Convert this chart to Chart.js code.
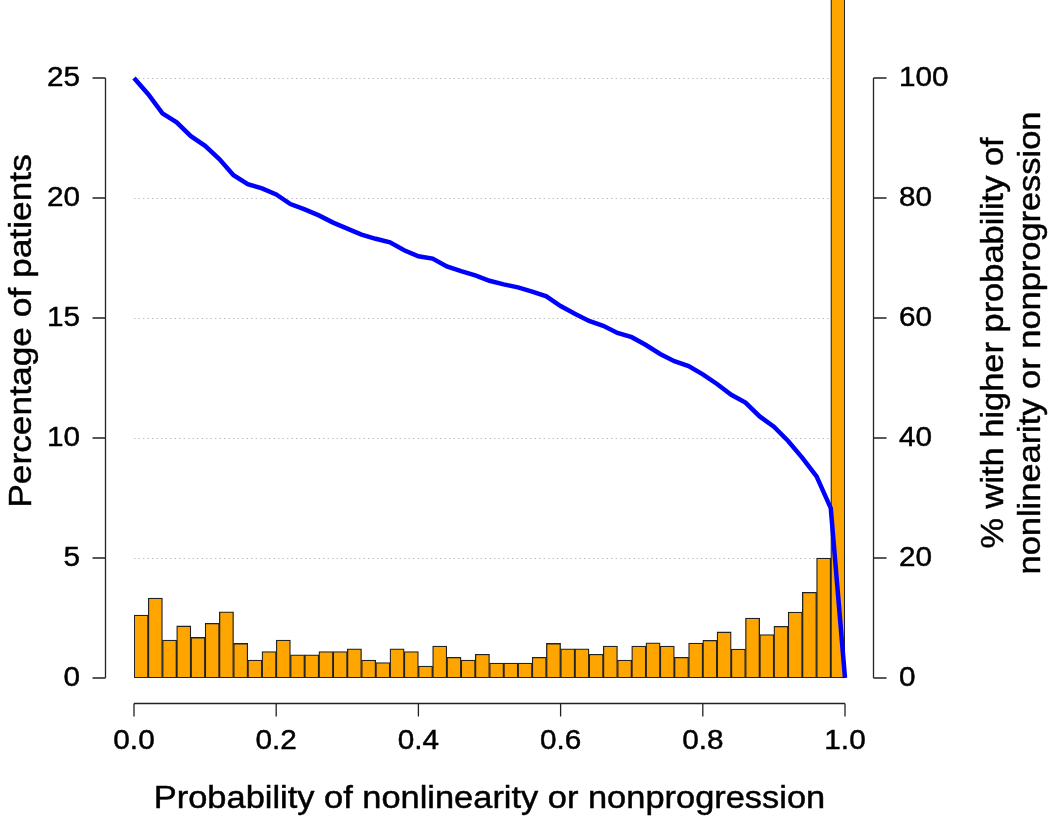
<!DOCTYPE html>
<html lang="en">
<head>
    <meta charset="UTF-8">
    <title>Probability of nonlinearity or nonprogression</title>
    <style>
        body {
            margin: 0;
            padding: 0;
            background: #fff;
        }

        .chart-box {
            width: 1050px;
            height: 819px;
        }
    </style>
    <script src="https://cdn.jsdelivr.net/npm/chart.js"></script>
</head>
<body>
    <div class="chart-box">
        <canvas id="histChart" width="1050" height="819"></canvas>
    </div>
    <script>
        // bin edges of the histogram (width 0.02)
        const binEdges = [
            0.00, 0.02, 0.04, 0.06, 0.08, 0.10, 0.12, 0.14, 0.16, 0.18,
            0.20, 0.22, 0.24, 0.26, 0.28, 0.30, 0.32, 0.34, 0.36, 0.38,
            0.40, 0.42, 0.44, 0.46, 0.48, 0.50, 0.52, 0.54, 0.56, 0.58,
            0.60, 0.62, 0.64, 0.66, 0.68, 0.70, 0.72, 0.74, 0.76, 0.78,
            0.80, 0.82, 0.84, 0.86, 0.88, 0.90, 0.92, 0.94, 0.96, 0.98,
            1.00
        ];

        // percentage of patients in each bin
        const pctPatients = [
            2.62, 3.33, 1.58, 2.17, 1.69, 2.28, 2.76, 1.44, 0.75, 1.10,
            1.58, 0.97, 0.97, 1.10, 1.10, 1.22, 0.75, 0.64, 1.22, 1.10,
            0.50, 1.33, 0.86, 0.75, 0.99, 0.62, 0.62, 0.62, 0.86, 1.44,
            1.22, 1.22, 0.99, 1.33, 0.75, 1.33, 1.47, 1.33, 0.86, 1.46,
            1.57, 1.92, 1.21, 2.50, 1.81, 2.15, 2.75, 3.57, 5.00, 28.3
        ];

        // % with higher probability, at each bin edge
        const pctHigher = [
            100, 97.3, 94.1, 92.6, 90.3, 88.7, 86.5, 83.8, 82.3, 81.6,
            80.6, 79.0, 78.1, 77.1, 75.9, 74.9, 73.9, 73.2, 72.6, 71.3,
            70.3, 69.9, 68.6, 67.8, 67.1, 66.2, 65.6, 65.1, 64.4, 63.6,
            62.0, 60.7, 59.5, 58.7, 57.5, 56.8, 55.5, 54.0, 52.8, 52.0,
            50.6, 49.0, 47.2, 45.9, 43.6, 41.9, 39.5, 36.7, 33.6, 28.3,
            0
        ];

        const xTicks = [0, 0.2, 0.4, 0.6, 0.8, 1.0];
        const xTickLabels = ['0.0', '0.2', '0.4', '0.6', '0.8', '1.0'];
        const leftTicks = [0, 5, 10, 15, 20, 25];
        const rightTicks = [0, 20, 40, 60, 80, 100];
        const gridLines = [5, 10, 15, 20, 25];

        const xTitle = 'Probability of nonlinearity or nonprogression';
        const leftTitle = 'Percentage of patients';
        const rightTitle = ['% with higher probability of', 'nonlinearity or nonprogression'];

        const FONT = "'Liberation Sans', Arial, sans-serif";

        const barData = pctPatients.map((v, i) => ({ x: (binEdges[i] + binEdges[i + 1]) / 2, y: v }));
        const lineData = pctHigher.map((v, i) => ({ x: binEdges[i], y: v }));

        // text a little wider than Arial, with a hairline stroke for weight
        function wideText(ctx, text, x, y, stretch, rot) {
            ctx.save();
            ctx.translate(x, y);
            if (rot) ctx.rotate(rot);
            ctx.scale(stretch, 1);
            ctx.fillText(text, 0, 0);
            ctx.lineWidth = 0.45;
            ctx.strokeStyle = '#000';
            ctx.strokeText(text, 0, 0);
            ctx.restore();
        }

        // R-style axes, drawn from the chart's scales
        const rAxes = {
            id: 'rAxes',
            beforeDatasetsDraw(chart) {
                const { ctx, scales: { x, y } } = chart;
                ctx.save();
                ctx.lineWidth = 1;
                ctx.strokeStyle = '#c0c0c0';
                ctx.setLineDash([1.5, 3]);
                gridLines.forEach(v => {
                    const py = Math.round(y.getPixelForValue(v)) + 0.5;
                    ctx.beginPath();
                    ctx.moveTo(x.getPixelForValue(0), py);
                    ctx.lineTo(x.getPixelForValue(1), py);
                    ctx.stroke();
                });
                ctx.restore();
            },
            afterDatasetsDraw(chart) {
                const { ctx, scales: { x, y } } = chart;
                // dashed baseline at zero
                ctx.save();
                ctx.strokeStyle = '#222';
                ctx.lineWidth = 1;
                ctx.setLineDash([3, 2]);
                const py0 = Math.round(y.getPixelForValue(0)) - 0.5;
                ctx.beginPath();
                ctx.moveTo(x.getPixelForValue(0), py0);
                ctx.lineTo(x.getPixelForValue(1), py0);
                ctx.stroke();
                ctx.restore();
            },
            afterDraw(chart) {
                const { ctx, scales: { x, y, y2 } } = chart;
                ctx.save();
                ctx.strokeStyle = '#222';
                ctx.fillStyle = '#000';
                ctx.lineWidth = 1.3;

                // bottom axis
                const axY = 703.5;
                ctx.beginPath();
                ctx.moveTo(x.getPixelForValue(xTicks[0]), axY);
                ctx.lineTo(x.getPixelForValue(xTicks[xTicks.length - 1]), axY);
                xTicks.forEach(t => {
                    const px = x.getPixelForValue(t);
                    ctx.moveTo(px, axY);
                    ctx.lineTo(px, axY + 13);
                });
                ctx.stroke();
                ctx.font = '27px ' + FONT;
                ctx.textAlign = 'center';
                ctx.textBaseline = 'alphabetic';
                xTicks.forEach((t, i) => {
                    wideText(ctx, xTickLabels[i], x.getPixelForValue(t), 749, 1.1);
                });
                ctx.font = '31px ' + FONT;
                wideText(ctx, xTitle, (x.left + x.right) / 2, 808, 1.11);

                // left axis
                ctx.strokeStyle = '#222';
                ctx.lineWidth = 1.3;
                const axL = 105.5;
                ctx.beginPath();
                ctx.moveTo(axL, y.getPixelForValue(leftTicks[0]));
                ctx.lineTo(axL, y.getPixelForValue(leftTicks[leftTicks.length - 1]));
                leftTicks.forEach(t => {
                    const py = y.getPixelForValue(t);
                    ctx.moveTo(axL, py);
                    ctx.lineTo(axL - 13, py);
                });
                ctx.stroke();
                ctx.font = '27px ' + FONT;
                ctx.textAlign = 'right';
                ctx.textBaseline = 'middle';
                leftTicks.forEach(t => {
                    wideText(ctx, String(t), 80, y.getPixelForValue(t) + 1, 1.1);
                });

                // right axis
                ctx.strokeStyle = '#222';
                ctx.lineWidth = 1.3;
                const axR = 873.5;
                ctx.beginPath();
                ctx.moveTo(axR, y2.getPixelForValue(rightTicks[0]));
                ctx.lineTo(axR, y2.getPixelForValue(rightTicks[rightTicks.length - 1]));
                rightTicks.forEach(t => {
                    const py = y2.getPixelForValue(t);
                    ctx.moveTo(axR, py);
                    ctx.lineTo(axR + 13, py);
                });
                ctx.stroke();
                ctx.textAlign = 'left';
                rightTicks.forEach(t => {
                    wideText(ctx, String(t), 899, y2.getPixelForValue(t) + 1, 1.1);
                });

                // rotated titles
                const midY = (y.top + y.bottom) / 2;
                ctx.font = '31px ' + FONT;
                ctx.textAlign = 'center';
                ctx.textBaseline = 'middle';
                wideText(ctx, leftTitle, 22, midY - 8, 1.14, -Math.PI / 2);
                wideText(ctx, rightTitle[0], 994, midY + 4, 1.11, -Math.PI / 2);
                wideText(ctx, rightTitle[1], 1031, midY + 4, 1.11, -Math.PI / 2);

                ctx.restore();
            }
        };

        const ctx = document.getElementById('histChart').getContext('2d');
        const histChart = new Chart(ctx, {
            data: {
                datasets: [{
                    type: 'line',
                    label: '% with higher probability',
                    data: lineData,
                    yAxisID: 'y2',
                    borderColor: '#0000ff',
                    borderWidth: 4.5,
                    pointRadius: 0,
                    tension: 0,
                    fill: false,
                    clip: false,
                    order: 0
                }, {
                    type: 'bar',
                    label: 'Percentage of patients',
                    data: barData,
                    yAxisID: 'y',
                    backgroundColor: '#ffa500',
                    borderColor: '#222',
                    borderWidth: 1.3,
                    borderSkipped: false,
                    barPercentage: 1,
                    categoryPercentage: 1,
                    grouped: false,
                    order: 1
                }]
            },
            options: {
                responsive: false,
                animation: false,
                layout: {
                    padding: { left: 134, right: 205, top: 0, bottom: 141 }
                },
                plugins: {
                    legend: { display: false },
                    tooltip: { enabled: false }
                },
                scales: {
                    x: {
                        type: 'linear',
                        min: 0,
                        max: 1,
                        offset: false,
                        display: false
                    },
                    y: {
                        type: 'linear',
                        min: 0,
                        max: 28.25,
                        display: false
                    },
                    y2: {
                        type: 'linear',
                        min: 0,
                        max: 113,
                        display: false
                    }
                }
            },
            plugins: [rAxes]
        });
    </script>
</body>
</html>
